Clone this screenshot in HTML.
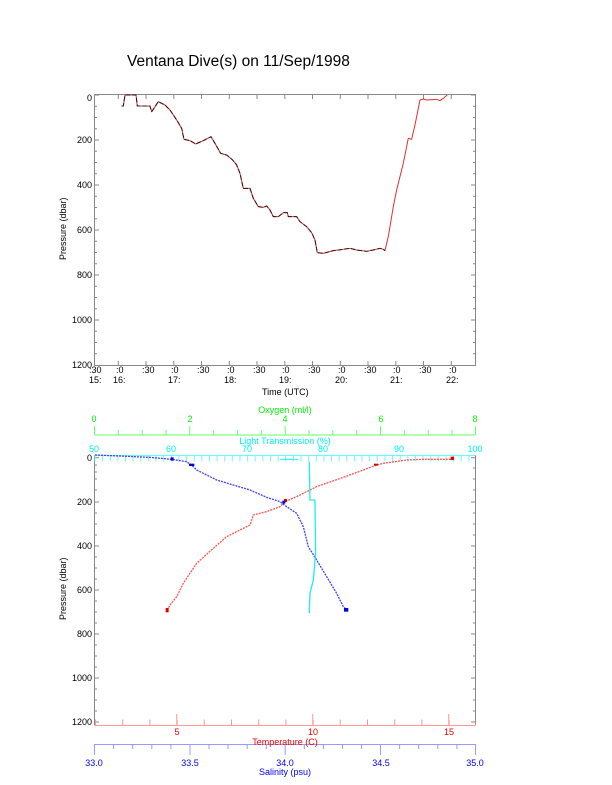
<!DOCTYPE html>
<html><head><meta charset="utf-8"><style>
html,body{margin:0;padding:0;background:#fff;}
svg{display:block;font-family:"Liberation Sans",sans-serif;}
</style></head><body>
<svg width="612" height="785" viewBox="0 0 612 785" xmlns="http://www.w3.org/2000/svg">
<rect width="612" height="785" fill="#fff"/>
<text x="127" y="66" font-size="15.5">Ventana Dive(s) on 11/Sep/1998</text>

<!-- TOP CHART -->
<g stroke="#888" fill="none" stroke-width="1">
<rect x="94.5" y="94.5" width="381" height="271"/>
<path d="M118.3 95v4M146 95v4M173.8 95v4M201.5 95v4M229.3 95v4M257 95v4M284.8 95v4M312.5 95v4M340.3 95v4M368 95v4M395.8 95v4M423.5 95v4M451.3 95v4
M118.3 365v-4M146 365v-4M173.8 365v-4M201.5 365v-4M229.3 365v-4M257 365v-4M284.8 365v-4M312.5 365v-4M340.3 365v-4M368 365v-4M395.8 365v-4M423.5 365v-4M451.3 365v-4"/>
<path d="M94 95h5M94 106.3h3M94 117.5h3M94 128.8h3M94 140h5M94 151.3h3M94 162.5h3M94 173.8h3M94 185h5M94 196.3h3M94 207.5h3M94 218.8h3M94 230h5M94 241.3h3M94 252.5h3M94 263.8h3M94 275h5M94 286.3h3M94 297.5h3M94 308.8h3M94 320h5M94 331.3h3M94 342.5h3M94 353.8h3"/>
<path d="M476 95h-5M476 106.3h-3M476 117.5h-3M476 128.8h-3M476 140h-5M476 151.3h-3M476 162.5h-3M476 173.8h-3M476 185h-5M476 196.3h-3M476 207.5h-3M476 218.8h-3M476 230h-5M476 241.3h-3M476 252.5h-3M476 263.8h-3M476 275h-5M476 286.3h-3M476 297.5h-3M476 308.8h-3M476 320h-5M476 331.3h-3M476 342.5h-3M476 353.8h-3"/>
</g>
<g font-size="9" text-anchor="end">
<text x="92" y="101">0</text><text x="92" y="143">200</text><text x="92" y="188">400</text><text x="92" y="233">600</text><text x="92" y="278">800</text><text x="92" y="323">1000</text><text x="92" y="368">1200</text>
</g>
<g font-size="9">
<text x="89" y="373">:30</text><text x="89" y="383">15:</text>
<text x="116" y="373">:0</text><text x="113" y="383">16:</text>
<text x="142" y="373">:30</text>
<text x="171" y="373">:0</text><text x="168" y="383">17:</text>
<text x="197" y="373">:30</text>
<text x="227" y="373">:0</text><text x="224" y="383">18:</text>
<text x="253" y="373">:30</text>
<text x="282" y="373">:0</text><text x="279" y="383">19:</text>
<text x="308" y="373">:30</text>
<text x="338" y="373">:0</text><text x="335" y="383">20:</text>
<text x="364" y="373">:30</text>
<text x="393" y="373">:0</text><text x="390" y="383">21:</text>
<text x="419" y="373">:30</text>
<text x="449" y="373">:0</text><text x="446" y="383">22:</text>
<text x="262" y="395">Time (UTC)</text>
<text transform="translate(66,260) rotate(-90)">Pressure (dbar)</text>
</g>
<g transform="translate(50,80) scale(0.3333)" fill="none" stroke-width="3" stroke-linejoin="round">
<polyline stroke="#e03030" points="215,78 220,78 225,45 258,45 262,78 300,78 305,95 325,65 345,75 360,90 380,120 395,145 402,178 420,182 437,192 460,182 483,170 495,190 512,220 530,225 548,240 560,255 570,280 580,325 600,325 610,355 625,380 640,382 650,378 660,390 670,410 685,410 700,398 712,398 715,410 740,410 750,425 770,440 785,458 795,480 802,518 820,520 850,512 880,508 900,505 920,510 950,514 970,510 990,505 1000,508 1005,512 1015,470 1030,380 1040,330 1050,290 1060,250 1075,175 1085,178 1095,135 1110,60 1120,57 1130,60 1160,58 1170,62 1180,55 1192,45"/>
<polyline stroke="#301010" stroke-dasharray="14,6" points="215,78 220,78 225,45 258,45 262,78 300,78 305,95 325,65 345,75 360,90 380,120 395,145 402,178 420,182 437,192 460,182 483,170 495,190 512,220 530,225 548,240 560,255 570,280 580,325 600,325 610,355 625,380 640,382 650,378 660,390 670,410 685,410 700,398 712,398 715,410 740,410 750,425 770,440 785,458 795,480 802,518 820,520 850,512 880,508 900,505 920,510 950,514 970,510 990,505 1000,508 1005,512"/>
</g>

<!-- BOTTOM CHART -->
<g fill="none" stroke-width="1">
<path stroke="#888" d="M94.5 455v270M475.5 455v270"/>
<path stroke="#888" d="M94 457.7h5M94 465h3M94 472h3M94 479h3M94 490h3M94 502h5M94 513h3M94 524h3M94 535h3M94 546h5M94 557h3M94 568h3M94 579h3M94 590h5M94 601h3M94 612h3M94 623h3M94 634h5M94 645h3M94 656h3M94 667h3M94 678h5M94 689h3M94 700h3M94 711h3M94 722h5"/>
<path stroke="#888" d="M476 457.7h-5M476 468h-3M476 479h-3M476 490h-3M476 502h-5M476 513h-3M476 524h-3M476 535h-3M476 546h-5M476 557h-3M476 568h-3M476 579h-3M476 590h-5M476 601h-3M476 612h-3M476 623h-3M476 634h-5M476 645h-3M476 656h-3M476 667h-3M476 678h-5M476 689h-3M476 700h-3M476 711h-3M476 722h-5"/>
<path stroke="#66ff66" d="M94.5 435h381M94.5 435v-9M118.3 435v-5M142.2 435v-5M166 435v-5M189.8 435v-9M213.7 435v-5M237.5 435v-5M261.3 435v-5M285.2 435v-9M309 435v-5M332.8 435v-5M356.7 435v-5M380.5 435v-9M404.3 435v-5M428.2 435v-5M452 435v-5M475.5 435v-9"/>
<path stroke="#66ffff" d="M94.5 455.5h381"/>
<path stroke="#66ffff" stroke-dasharray="1,6.63" d="M94.5 458.5h381" stroke-width="6"/>
<path stroke="#ff9999" d="M94.5 725.5h381"/>
<path stroke="#ff9999" stroke-dasharray="1,26.2" d="M95 722.5h381" stroke-width="6"/>
<path stroke="#ff9999" d="M176.7 725v-11M312.7 725v-11M448.7 725v-11"/>
<path stroke="#9999ff" d="M94.5 744.5h381"/>
<path stroke="#9999ff" d="M94.5 744v11M113.6 744v5M132.7 744v5M151.8 744v5M170.9 744v5M190 744v11M209 744v5M228 744v5M247.2 744v5M266.3 744v5M285.2 744v11M304.3 744v5M323.4 744v5M342.5 744v5M361.6 744v5M380.5 744v11M399.6 744v5M418.7 744v5M437.8 744v5M456.9 744v5M475.5 744v11"/>
</g>
<g font-size="9" text-anchor="middle">
<g fill="#00ee00"><text x="94" y="422">0</text><text x="190" y="422">2</text><text x="285" y="422">4</text><text x="381" y="422">6</text><text x="475" y="422">8</text><text x="285" y="413">Oxygen (ml/l)</text></g>
<g fill="#00eeee"><text x="94" y="452">50</text><text x="171" y="452">60</text><text x="247" y="452">70</text><text x="323" y="452">80</text><text x="399" y="452">90</text><text x="475" y="452">100</text><text x="285" y="444">Light Transmission (%)</text></g>
<g fill="#ee0000"><text x="177" y="735">5</text><text x="313" y="735">10</text><text x="449" y="735">15</text><text x="285" y="745">Temperature (C)</text></g>
<g fill="#0000ee"><text x="94" y="766">33.0</text><text x="190" y="766">33.5</text><text x="285" y="766">34.0</text><text x="381" y="766">34.5</text><text x="475" y="766">35.0</text><text x="285" y="775">Salinity (psu)</text></g>
</g>
<g font-size="9" text-anchor="end" fill="#000">
<text x="92" y="461">0</text><text x="92" y="505">200</text><text x="92" y="549">400</text><text x="92" y="593">600</text><text x="92" y="637">800</text><text x="92" y="681">1000</text><text x="92" y="725">1200</text>
<text transform="translate(66,620) rotate(-90)" text-anchor="start">Pressure (dbar)</text>
</g>
<g transform="translate(50,400) scale(0.3333)" fill="none" stroke-linejoin="round">
<polyline stroke="#ff5555" stroke-width="4" stroke-dasharray="6,3" points="1210,172 1200,178 1120,178 1070,180 1000,190 980,195 940,210 880,232 800,260 740,290 705,305 690,320 650,335 610,345 600,375 560,395 530,410 490,445 440,490 420,520 400,550 380,590 360,615 350,635"/>
<polyline stroke="#4444ee" stroke-width="4" stroke-dasharray="6,3" points="135,165 300,172 365,178 410,185 430,200 440,210 500,240 600,270 650,292 690,305 710,320 740,340 760,380 775,440 800,480 830,530 860,580 880,620 895,635"/>
<polyline stroke="#22eeee" stroke-width="4" points="778,185 780,300 795,300 797,460 790,540 780,580 778,640"/>
<polyline stroke="#22eeee" stroke-width="3" points="690,178 745,178"/>
<g fill="#dd0000" stroke="none"><rect x="1202" y="170" width="10" height="10"/><rect x="347" y="624" width="9" height="13"/><rect x="702" y="297" width="9" height="9"/><rect x="972" y="191" width="12" height="6"/></g>
<g fill="#0000dd" stroke="none"><rect x="362" y="172" width="9" height="10"/><rect x="882" y="624" width="13" height="11"/><rect x="697" y="302" width="9" height="9"/><rect x="417" y="191" width="16" height="7"/></g>
</g>
</svg>
</body></html>
